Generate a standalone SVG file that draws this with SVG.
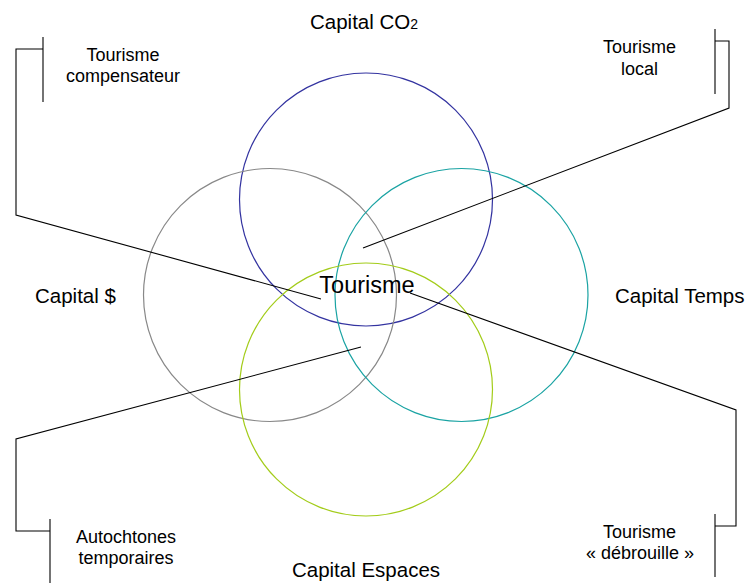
<svg xmlns="http://www.w3.org/2000/svg" width="751" height="583" viewBox="0 0 751 583">
<style>
.c{fill:none;stroke-width:1.2}
.l{fill:none;stroke:#000;stroke-width:1.1}
text{font-family:"Liberation Sans",Arial,sans-serif;fill:#000}
.s{font-size:18px;text-anchor:middle}
.cap{font-size:20.5px}
</style>
<rect width="751" height="583" fill="#fff"/>
<g id="circles">
<circle id="circle-co2" class="c" cx="366" cy="199.5" r="126.5" stroke="#3333a0"/>
<circle id="circle-dollar" class="c" cx="270" cy="295" r="126.5" stroke="#888888"/>
<circle id="circle-temps" class="c" cx="461.5" cy="295" r="126.5" stroke="#1aa3a3"/>
<circle id="circle-espaces" class="c" cx="366" cy="389.5" r="126.5" stroke="#a3cc1a"/>
</g>
<g id="connectors">
<polyline class="l" points="43,37 43,102"/>
<polyline class="l" points="43,49 16,49 16,215 321,299"/>
<polyline class="l" points="715,29 715,94"/>
<polyline class="l" points="715,41 729,41 729,108 363,248"/>
<polyline class="l" points="50,519 50,583"/>
<polyline class="l" points="50,531 16,531 16,439 361,347"/>
<polyline class="l" points="715,514 715,577"/>
<polyline class="l" points="715,526 736,526 736,410 410,293"/>
</g>
<g id="label-co2"><text class="cap" x="310" y="29">Capital CO<tspan font-size="14">2</tspan></text></g>
<g id="label-dollar"><text class="cap" x="35" y="303">Capital $</text></g>
<g id="label-temps"><text class="cap" x="615" y="303">Capital Temps</text></g>
<g id="label-espaces"><text class="cap" x="366" y="577" text-anchor="middle">Capital Espaces</text></g>
<g id="node-tourisme"><text x="367" y="293" font-size="23.5" text-anchor="middle">Tourisme</text></g>
<g id="node-compensateur"><text class="s" x="123" y="61">Tourisme</text><text class="s" x="123" y="82">compensateur</text></g>
<g id="node-local"><text class="s" x="639.5" y="53">Tourisme</text><text class="s" x="639.5" y="75">local</text></g>
<g id="node-autochtones"><text class="s" x="126" y="543">Autochtones</text><text class="s" x="126" y="564">temporaires</text></g>
<g id="node-debrouille"><text class="s" x="639.5" y="538">Tourisme</text><text class="s" x="640" y="559">« débrouille »</text></g>
</svg>
